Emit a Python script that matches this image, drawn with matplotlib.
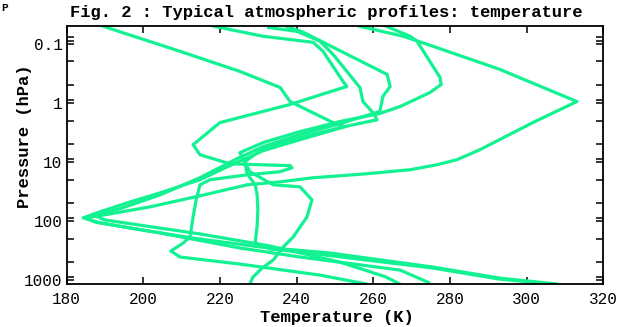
import matplotlib
matplotlib.use("Agg")
import matplotlib.pyplot as plt
from matplotlib.ticker import FixedLocator, FixedFormatter, NullFormatter

# temperature (K) against pressure (hPa), one pair of lists per profile
t1 = [256.0, 267.8, 275.6, 293.0, 313.1, 301.6, 287.8, 281.8, 276.6, 269.6, 258.4, 244.3, 235.7,
      227.1, 214.8, 201.8, 191.3, 185.1, 187.4, 196.6, 213.0, 230.5, 248.7, 275.6, 293.0, 308.2]
p1 = [0.05, 0.075, 0.111, 0.273, 0.955, 2.17, 6.24, 9.22, 11.2, 13.6, 15.9, 18.6, 21.8,
      24.5, 37.6, 57.8, 76.0, 88.9, 104, 132, 195, 276, 349, 604, 929, 1175]

t2 = [189.2, 209.6, 225.2, 235.7, 238.3, 249.5, 252.6, 240.9, 231.2, 222.6, 214.8, 204.4, 195.8,
      188.7, 184.3, 188.7, 204.4, 225.2, 240.9, 267.0, 274.8]
p2 = [0.05, 0.135, 0.295, 0.552, 0.955, 2.17, 2.54, 4.22, 6.49, 11.6, 20.1, 33.5, 49.5,
      70.3, 88.9, 108, 160, 287, 408, 679, 1130]

t3 = [217.9, 231.2, 244.3, 246.9, 252.1, 253.1, 238.3, 220.0, 213.0, 214.8, 222.6, 238.3, 238.8,
      235.7, 227.1, 217.4, 214.8, 213.8, 213.0, 212.2, 210.4, 207.2, 209.6, 225.2, 246.1, 258.4]
p3 = [0.05, 0.075, 0.095, 0.135, 0.436, 0.531, 1.07, 2.17, 5.13, 7.58, 10.8, 11.6, 12.6,
      14.7, 16.6, 20.1, 24.5, 44.0, 85.5, 187, 237, 323, 408, 537, 826, 1175]

t4 = [232.3, 240.1, 246.1, 249.5, 256.5, 257.3, 259.9, 261.0, 251.3, 240.9, 231.2, 226.5, 227.1,
      229.2, 229.7, 229.9, 229.7, 229.2, 233.1, 240.9, 275.6, 293.0, 307.4]
p4 = [0.053, 0.062, 0.091, 0.152, 0.552, 0.955, 1.47, 1.94, 2.64, 3.90, 5.99, 9.96, 15.9,
      24.5, 36.2, 65.6, 122, 237, 299, 336, 628, 967, 1175]

t5 = [237.0, 241.7, 263.6, 264.4, 262.5, 261.7, 251.3, 240.9, 231.2, 223.9, 214.8, 204.4, 194.0,
      187.4, 190.0, 201.8, 214.8, 233.1, 251.3, 263.1, 267.0]
p5 = [0.05, 0.064, 0.332, 0.531, 0.785, 1.41, 2.26, 3.47, 5.55, 9.22, 18.6, 36.2, 61.8,
      81.8, 96.2, 125, 166, 266, 497, 877, 1175]

t6 = [263.1, 269.6, 271.4, 277.4, 277.7, 274.8, 267.0, 261.7, 251.3, 240.9, 231.2, 225.2, 227.8,
      233.9, 240.9, 244.0, 242.7, 239.1, 236.5, 233.9, 231.0, 228.6, 227.8]
p6 = [0.05, 0.075, 0.091, 0.373, 0.491, 0.671, 1.16, 1.52, 2.08, 3.08, 4.74, 7.01, 14.7,
      24.5, 26.5, 44.0, 85.5, 187, 276, 459, 628, 894, 1175]

profiles = [(t1, p1), (t2, p2), (t3, p3), (t4, p4), (t5, p5), (t6, p6)]

x_ticks = [180, 200, 220, 240, 260, 280, 300, 320]
y_ticks = [0.1, 1, 10, 100, 1000]
y_labels = ["0.1", "1", "10", "100", "1000"]
y_minor = [0.077, 0.09, 0.2, 0.5, 0.9, 2, 5, 9, 20, 50, 90, 200, 500, 900]

green = "#12f293"
mono = "Liberation Mono"

fig = plt.figure(figsize=(6.22, 3.27), dpi=100)
ax = fig.add_axes([0.107, 0.131, 0.863, 0.790])

for t, p in profiles:
    ax.plot(t, p, color=green, lw=2.3, solid_joinstyle="round", solid_capstyle="butt")

ax.set_yscale("log")
ax.set_xlim(180, 320)
ax.set_ylim(1175, 0.05)

ax.xaxis.set_major_locator(FixedLocator(x_ticks))
ax.yaxis.set_major_locator(FixedLocator(y_ticks))
ax.yaxis.set_major_formatter(FixedFormatter(y_labels))
ax.yaxis.set_minor_locator(FixedLocator(y_minor))
ax.yaxis.set_minor_formatter(NullFormatter())
ax.xaxis.set_minor_locator(FixedLocator([]))

ax.tick_params(which="both", direction="in", top=True, right=True, width=1.1,
               labelsize=11.5, colors="black")
ax.tick_params(which="major", length=5, pad=6)
ax.tick_params(which="minor", length=5)
ax.tick_params(axis="y", pad=3)
for lab in ax.get_xticklabels() + ax.get_yticklabels():
    lab.set_family(mono)

for s in ax.spines.values():
    s.set_linewidth(1.3)

fig.text(0.524, 0.962, "Fig. 2 : Typical atmospheric profiles: temperature",
         family=mono, weight="bold", fontsize=12.3, ha="center", va="center")
fig.text(0.541, 0.028, "Temperature (K)", family=mono, weight="bold",
         fontsize=12.3, ha="center", va="center")
fig.text(0.040, 0.583, "Pressure (hPa)", family=mono, weight="bold",
         fontsize=12.3, ha="center", va="center", rotation=90)
# small letter in the top-left corner
fig.text(0.002, 0.992, "P", family=mono, weight="bold", fontsize=8,
         ha="left", va="top")

fig.savefig("out.png", dpi=100)
